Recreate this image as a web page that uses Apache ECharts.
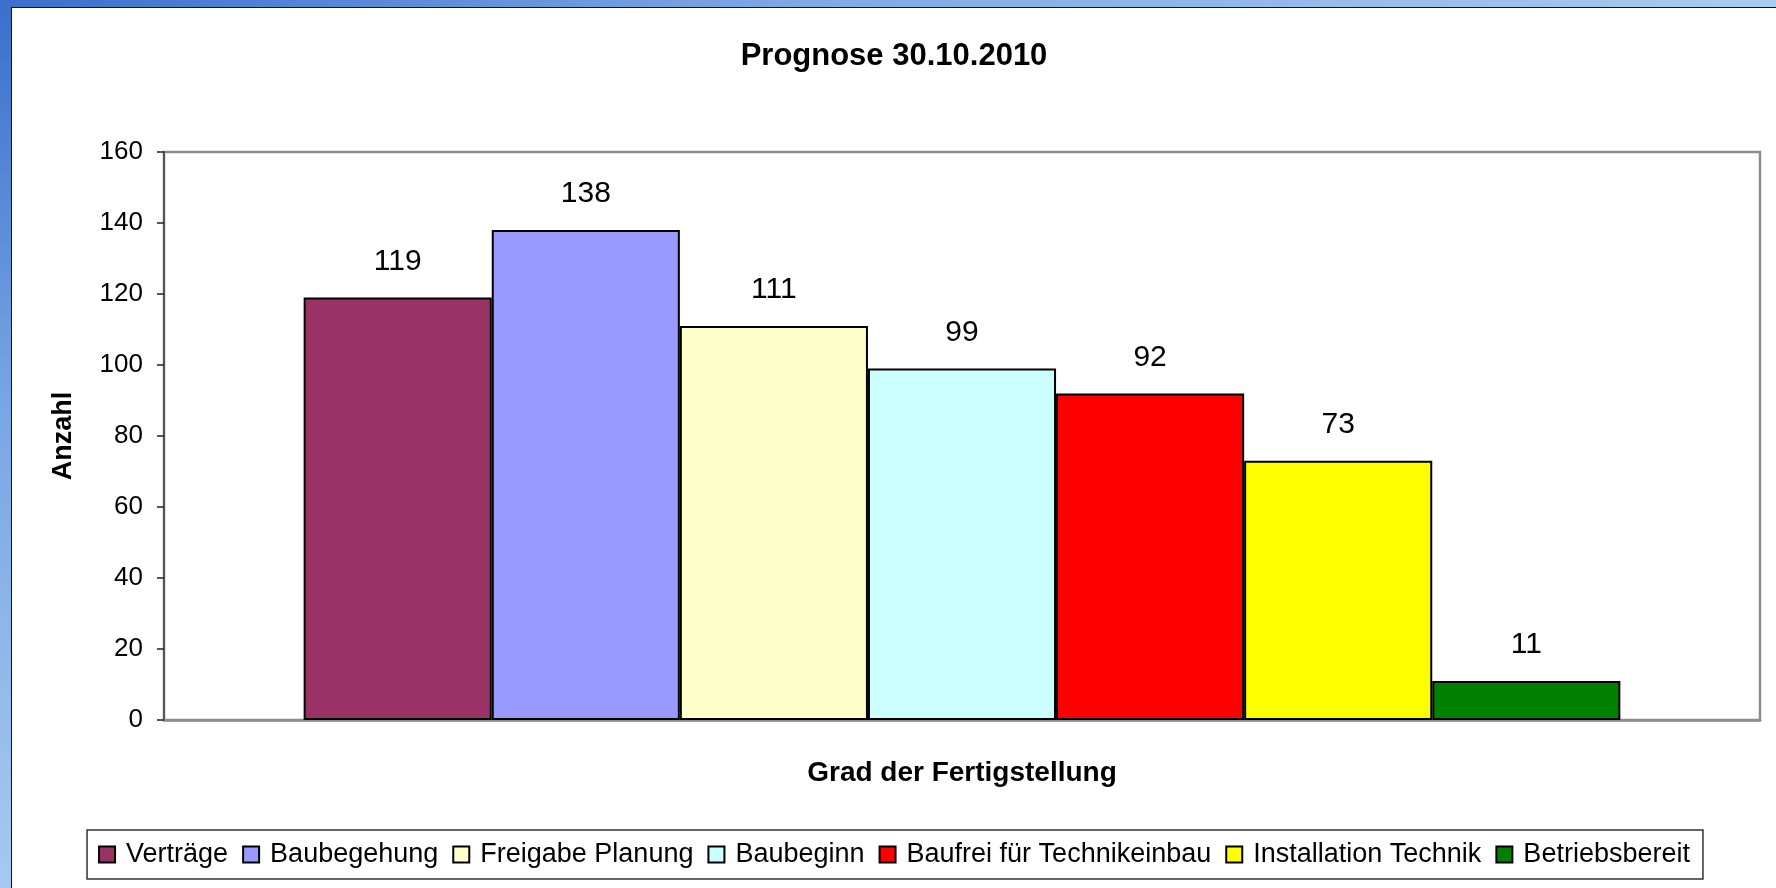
<!DOCTYPE html>
<html>
<head>
<meta charset="utf-8">
<script src="https://cdn.jsdelivr.net/npm/echarts@6/dist/echarts.min.js"></script>
<style>
  html, body { margin: 0; padding: 0; width: 1776px; height: 888px; overflow: hidden; background: #fff; }
  #bandTop { position: absolute; left: 0; top: 0; width: 1776px; height: 7px;
    background: linear-gradient(to right, #3a6fcb, #7ea9e6 45%, #aacbf0); }
  #bandLeft { position: absolute; left: 0; top: 0; width: 11px; height: 888px;
    background: linear-gradient(to bottom, #3a6fcb, #78a5e4 45%, #a7c9ef); }
  #panel { position: absolute; left: 11px; top: 7px; width: 1765px; height: 881px;
    background: #fff; border-left: 1.5px solid #111; border-top: 1.5px solid #111; box-sizing: border-box; }
  #chart { position: absolute; left: 12px; top: 7px; width: 1764px; height: 881px; }
</style>
</head>
<body>
<div id="bandTop"></div>
<div id="bandLeft"></div>
<div id="panel"></div>
<div id="chart"></div>
<script>
  var titleText = 'Prognose 30.10.2010';
  var seriesNames = ['Verträge', 'Baubegehung', 'Freigabe Planung', 'Baubeginn',
    'Baufrei für Technikeinbau', 'Installation Technik', 'Betriebsbereit'];
  var seriesValues = [119, 138, 111, 99, 92, 73, 11];
  var seriesColors = ['#993366', '#9999ff', '#ffffcc', '#ccffff', '#ff0000', '#ffff00', '#008000'];
  var yMin = 0, yMax = 160, yStep = 20;

  var font = '"Liberation Sans", Arial, sans-serif';
  var chart = echarts.init(document.getElementById('chart'), null, { renderer: 'canvas' });

  chart.setOption({
    animation: false,
    backgroundColor: 'transparent',
    textStyle: { fontFamily: font },
    title: {
      text: titleText,
      left: 'center',
      top: 29,
      textStyle: { fontFamily: font, fontSize: 31, fontWeight: 'bold', color: '#000' }
    },
    legend: {
      left: 'center',
      top: 823,
      orient: 'horizontal',
      itemWidth: 16,
      itemHeight: 16,
      itemGap: 14,
      padding: [11, 13, 11, 11],
      borderColor: '#333',
      borderWidth: 1.5,
      icon: 'rect',
      textStyle: { fontFamily: font, fontSize: 27, color: '#000', padding: [0, 0, 0, 6] },
      data: seriesNames
    },
    grid: {
      left: 152, right: 16, top: 145, bottom: 168,
      show: true, borderColor: '#8c8c8c', borderWidth: 2.5, backgroundColor: '#fff'
    },
    xAxis: {
      type: 'category',
      data: [''],
      name: 'Grad der Fertigstellung',
      nameLocation: 'middle',
      nameGap: 39,
      nameTextStyle: { fontFamily: font, fontSize: 28, fontWeight: 'bold', color: '#000' },
      axisLine: { lineStyle: { color: '#8c8c8c', width: 2.5 } },
      axisTick: { show: false },
      axisLabel: { show: false }
    },
    yAxis: {
      type: 'value',
      min: yMin, max: yMax, interval: yStep,
      name: 'Anzahl',
      nameLocation: 'middle',
      nameGap: 87,
      nameRotate: 90,
      nameTextStyle: { fontFamily: font, fontSize: 27, fontWeight: 'bold', color: '#000' },
      axisLine: { show: true, lineStyle: { color: '#555', width: 2 } },
      axisTick: { show: true, inside: false, length: 7, lineStyle: { color: '#222', width: 1.5 } },
      axisLabel: { fontFamily: font, fontSize: 26, color: '#000', margin: 21 },
      splitLine: { show: false }
    },
    series: seriesNames.map(function (name, i) {
      return {
        name: name,
        type: 'bar',
        data: [seriesValues[i]],
        barGap: '0%',
        barCategoryGap: '17.5%',
        itemStyle: { color: seriesColors[i], borderColor: '#000', borderWidth: 2 },
        label: {
          show: true,
          position: 'top',
          distance: 21,
          fontFamily: font,
          fontSize: 30,
          color: '#000'
        }
      };
    })
  });
</script>
</body>
</html>
